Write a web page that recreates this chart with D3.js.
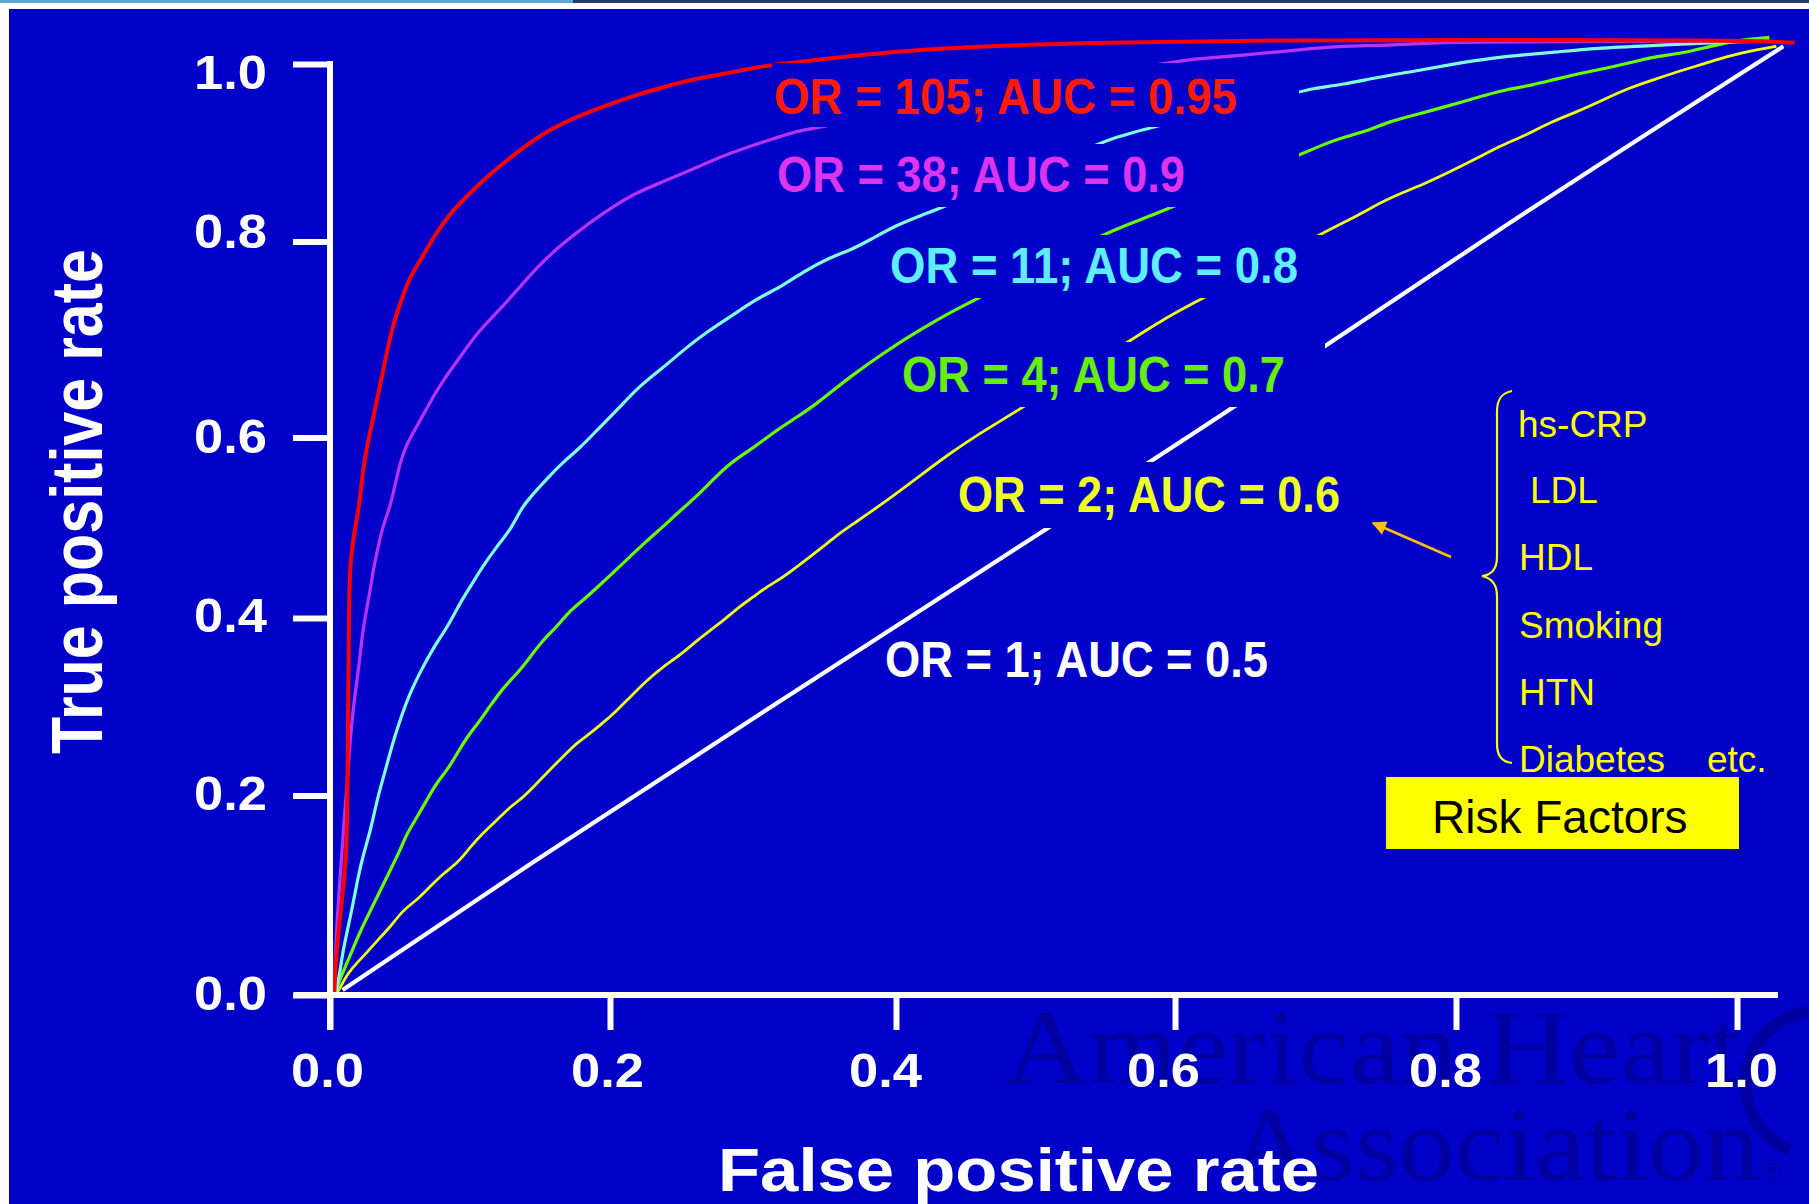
<!DOCTYPE html>
<html>
<head>
<meta charset="utf-8">
<script src="https://cdn.jsdelivr.net/npm/d3@7"></script>
<style>
html,body{margin:0;padding:0;background:#fff;overflow:hidden}
svg{display:block}
</style>
</head>
<body>
<svg id="chart" width="1809" height="1204"></svg>
<script>
// ---------------- DATA ----------------
const fprTicks = [0, 0.2, 0.4, 0.6, 0.8, 1.0];
const tprTicks = [0, 0.2, 0.4, 0.6, 0.8, 1.0];
const oddsRatios = [105, 38, 11, 4, 2, 1];
const aucValues = ["0.95", "0.9", "0.8", "0.7", "0.6", "0.5"];
const xTitle = "False positive rate";
const yTitle = "True positive rate";
const riskFactors = ["hs-CRP", "LDL", "HDL", "Smoking", "HTN", "Diabetes"];
const riskEtc = "etc.";
const riskTitle = "Risk Factors";

// ROC curves: [false positive rate, true positive rate]
const rocOR105 = [[0.003,0],[0.004,0.035],[0.007,0.075],[0.010,0.115],[0.012,0.145],[0.0125,0.217],[0.013,0.308],[0.0135,0.398],[0.014,0.442],[0.015,0.470],[0.018,0.501],[0.021,0.525],[0.024,0.572],[0.029,0.608],[0.034,0.641],[0.039,0.676],[0.044,0.710],[0.050,0.737],[0.057,0.764],[0.066,0.784],[0.074,0.805],[0.084,0.828],[0.095,0.847],[0.112,0.873],[0.129,0.895],[0.152,0.922],[0.171,0.937],[0.195,0.952],[0.214,0.963],[0.237,0.974],[0.261,0.984],[0.284,0.990],[0.307,0.998],[0.331,1.002],[0.361,1.008],[0.389,1.012],[0.417,1.016],[0.462,1.020],[0.544,1.024],[0.668,1.027],[0.831,1.027],[0.996,1.027],[1.041,1.024]];
const rocOR38 = [[0.003,0],[0.004,0.050],[0.007,0.115],[0.010,0.173],[0.013,0.229],[0.015,0.276],[0.018,0.315],[0.021,0.350],[0.023,0.381],[0.026,0.409],[0.029,0.433],[0.031,0.455],[0.034,0.475],[0.036,0.491],[0.039,0.507],[0.043,0.524],[0.046,0.544],[0.050,0.572],[0.055,0.594],[0.062,0.611],[0.071,0.635],[0.081,0.659],[0.093,0.682],[0.105,0.707],[0.121,0.730],[0.134,0.751],[0.148,0.774],[0.166,0.798],[0.186,0.822],[0.202,0.839],[0.217,0.854],[0.235,0.866],[0.256,0.880],[0.279,0.897],[0.307,0.912],[0.331,0.925],[0.345,0.928],[0.595,1.003],[0.619,1.006],[0.641,1.009],[0.662,1.012],[0.688,1.016],[0.715,1.020],[0.752,1.021],[0.783,1.024],[0.814,1.025],[0.996,1.026],[1.021,1.026]];
const rocOR11 = [[0.004,0.002],[0.007,0.022],[0.009,0.042],[0.012,0.062],[0.016,0.088],[0.020,0.118],[0.024,0.142],[0.029,0.165],[0.034,0.198],[0.039,0.225],[0.044,0.255],[0.050,0.285],[0.057,0.315],[0.064,0.338],[0.074,0.367],[0.084,0.390],[0.093,0.417],[0.100,0.434],[0.109,0.457],[0.119,0.479],[0.130,0.500],[0.136,0.520],[0.143,0.534],[0.156,0.556],[0.166,0.572],[0.179,0.589],[0.191,0.608],[0.205,0.628],[0.220,0.652],[0.237,0.671],[0.251,0.689],[0.268,0.708],[0.284,0.723],[0.303,0.742],[0.320,0.754],[0.335,0.769],[0.354,0.784],[0.368,0.791],[0.382,0.802],[0.401,0.819],[0.419,0.830],[0.434,0.839],[0.548,0.912],[0.557,0.917],[0.568,0.922],[0.584,0.929],[0.688,0.968],[0.696,0.972],[0.720,0.977],[0.744,0.985],[0.771,0.992],[0.798,1.000],[0.827,1.007],[0.846,1.010],[0.869,1.013],[0.899,1.018],[0.944,1.021],[0.997,1.025],[1.023,1.026]];
const rocOR4 = [[0.004,0.002],[0.006,0.012],[0.009,0.022],[0.013,0.035],[0.018,0.052],[0.023,0.068],[0.029,0.085],[0.036,0.105],[0.043,0.125],[0.050,0.145],[0.055,0.162],[0.062,0.178],[0.069,0.195],[0.076,0.214],[0.084,0.229],[0.091,0.248],[0.098,0.266],[0.106,0.282],[0.114,0.300],[0.124,0.322],[0.134,0.338],[0.143,0.356],[0.152,0.375],[0.162,0.390],[0.170,0.406],[0.181,0.420],[0.191,0.434],[0.202,0.450],[0.214,0.468],[0.226,0.486],[0.237,0.501],[0.247,0.516],[0.258,0.531],[0.270,0.550],[0.284,0.572],[0.298,0.586],[0.317,0.608],[0.331,0.621],[0.345,0.635],[0.356,0.648],[0.368,0.662],[0.391,0.686],[0.415,0.708],[0.439,0.728],[0.459,0.742],[0.550,0.810],[0.575,0.824],[0.598,0.839],[0.688,0.897],[0.705,0.909],[0.719,0.917],[0.736,0.924],[0.752,0.935],[0.772,0.943],[0.788,0.950],[0.804,0.957],[0.821,0.965],[0.838,0.972],[0.854,0.976],[0.871,0.983],[0.890,0.990],[0.909,0.996],[0.923,1.001],[0.940,1.008],[0.961,1.012],[0.981,1.020],[1.002,1.027],[1.023,1.030]];
const rocOR2 = [[0.005,0.002],[0.009,0.012],[0.013,0.022],[0.019,0.032],[0.026,0.042],[0.034,0.055],[0.043,0.068],[0.052,0.085],[0.062,0.095],[0.071,0.108],[0.081,0.122],[0.091,0.132],[0.100,0.148],[0.109,0.162],[0.119,0.175],[0.129,0.189],[0.138,0.198],[0.148,0.214],[0.157,0.229],[0.166,0.243],[0.176,0.259],[0.186,0.270],[0.195,0.282],[0.205,0.296],[0.214,0.311],[0.226,0.330],[0.237,0.345],[0.249,0.358],[0.261,0.375],[0.270,0.386],[0.280,0.398],[0.290,0.412],[0.300,0.423],[0.309,0.434],[0.321,0.445],[0.331,0.457],[0.340,0.468],[0.349,0.479],[0.359,0.492],[0.368,0.502],[0.391,0.527],[0.415,0.555],[0.439,0.583],[0.462,0.606],[0.491,0.631],[0.566,0.697],[0.593,0.722],[0.620,0.742],[0.705,0.810],[0.729,0.828],[0.745,0.843],[0.762,0.855],[0.779,0.866],[0.795,0.878],[0.814,0.893],[0.833,0.909],[0.850,0.920],[0.868,0.935],[0.886,0.946],[0.904,0.959],[0.923,0.973],[0.942,0.983],[0.961,0.993],[0.978,1.001],[0.994,1.009],[1.014,1.016],[1.028,1.020]];
const rocOR1 = [[0.009,0.005],[0.143,0.132],[0.284,0.270],[0.509,0.500],[0.643,0.631],[0.823,0.807],[1.033,1.020]];

// ---------------- LAYOUT / STYLE ----------------
const W = 1809, H = 1204;
const BG = "#0000C8";
const svg = d3.select("#chart");
const boldFont = "'Liberation Sans', Arial, sans-serif";

const x = d3.scaleLinear().domain(fprTicks).range([330, 610, 896, 1175, 1456, 1737]);
const y = d3.scaleLinear().domain(tprTicks).range([995, 795.5, 618, 437.5, 241.5, 64]);
// small hand-placement offsets of the tick labels seen on the slide
const xLabelNudge = [-3, -3, -11, -12, -11, 4];
const yLabelBaseline = [14, 14, 13, 14.5, 5.5, 24];

// page frame
svg.append("rect").attr("x", 0).attr("y", 0).attr("width", W).attr("height", H).attr("fill", "#fff");
svg.append("rect").attr("x", 0).attr("y", 0).attr("width", 573).attr("height", 3).attr("fill", "#5aa6d6");
svg.append("rect").attr("x", 573).attr("y", 0).attr("width", W - 573).attr("height", 3).attr("fill", "#25386a");
svg.append("rect").attr("x", 9).attr("y", 9).attr("width", W - 9).attr("height", H - 9).attr("fill", BG);

// watermark
const WM = "#0000A0";
const wm = svg.append("g").attr("fill", WM).attr("font-family", "'Liberation Serif', 'Times New Roman', serif");
wm.append("text").attr("x", 1005).attr("y", 1083).attr("font-size", 105)
  .attr("textLength", 736).attr("lengthAdjust", "spacingAndGlyphs").text("American Heart");
wm.append("text").attr("x", 1230).attr("y", 1180).attr("font-size", 105)
  .attr("textLength", 530).attr("lengthAdjust", "spacingAndGlyphs").text("Association");
wm.append("text").attr("x", 1761).attr("y", 1178).attr("font-size", 28).text("®");
svg.append("path").attr("d", "M1809,1012 A72,72 0 0,0 1790,1150").attr("fill", "none")
  .attr("stroke", WM).attr("stroke-width", 12);

// ROC curves
const series = [
  {data: rocOR1,   color: "#ffffff", w: 4.2},
  {data: rocOR2,   color: "#eeff10", w: 2.8},
  {data: rocOR4,   color: "#66ff00", w: 3.2},
  {data: rocOR11,  color: "#7fffdc", w: 3.2},
  {data: rocOR38,  color: "#b533f5", w: 3.3},
  {data: rocOR105, color: "#ff0000", w: 4}
];
const line = d3.line().x(d => x(d[0])).y(d => y(d[1])).curve(d3.curveBasis);
svg.append("g").selectAll("path").data(series).join("path")
  .attr("d", d => line(d.data)).attr("fill", "none")
  .attr("stroke", d => d.color).attr("stroke-width", d => d.w)
  .attr("stroke-linejoin", "round");

// curve labels (opaque text boxes like the original slide)
const labelStyle = [
  {color: "#ff1a0a", x: 774, y: 114, w: 463, box: [772, 63, 1299, 127]},
  {color: "#dd35ee", x: 777, y: 192, w: 408, box: [770, 144, 1299, 207]},
  {color: "#5eeeff", x: 890, y: 283, w: 408, box: [885, 235, 1322, 298]},
  {color: "#66ee10", x: 902, y: 392, w: 383, box: [908, 342, 1325, 407]},
  {color: "#eeff22", x: 958, y: 512, w: 382, box: [950, 462, 1350, 528]},
  {color: "#ffffff", x: 885, y: 677, w: 383, box: [882, 640, 1280, 695]}
];
const labels = oddsRatios.map((or, i) => ({text: `OR = ${or}; AUC = ${aucValues[i]}`, ...labelStyle[i]}));
const lg = svg.append("g");
lg.selectAll("rect").data(labels).join("rect")
  .attr("x", d => d.box[0]).attr("y", d => d.box[1])
  .attr("width", d => d.box[2] - d.box[0]).attr("height", d => d.box[3] - d.box[1])
  .attr("fill", BG);
lg.selectAll("text").data(labels).join("text")
  .attr("x", d => d.x).attr("y", d => d.y)
  .attr("fill", d => d.color).attr("font-family", boldFont).attr("font-weight", "bold")
  .attr("font-size", 50).attr("textLength", d => d.w).attr("lengthAdjust", "spacingAndGlyphs")
  .text(d => d.text);

// axes
const fmt = d3.format(".1f");
const gx = svg.append("g").attr("transform", `translate(0,${y(0)})`)
  .call(d3.axisBottom(x).tickValues(fprTicks).tickFormat(fmt).tickSize(35).tickSizeOuter(0));
const gy = svg.append("g").attr("transform", `translate(${x(0)},0)`)
  .call(d3.axisLeft(y).tickValues(tprTicks).tickFormat(fmt).tickSize(37).tickSizeOuter(0));
[gx, gy].forEach(g => {
  g.select(".domain").remove();
  g.selectAll(".tick line").attr("stroke", "#fff").attr("stroke-width", 6);
  g.selectAll(".tick text").attr("fill", "#fff").attr("font-family", boldFont)
    .attr("font-weight", "bold").attr("font-size", 49)
    .attr("textLength", 73).attr("lengthAdjust", "spacingAndGlyphs");
});
gx.selectAll(".tick text").attr("y", 92).attr("dy", 0).attr("dx", (d, i) => xLabelNudge[i]);
gy.selectAll(".tick text").attr("x", -63).attr("dy", (d, i) => yLabelBaseline[i]);

// axis spines
svg.append("line").attr("x1", x(0)).attr("x2", x(0)).attr("y1", y(1) - 3).attr("y2", y(0) + 35)
  .attr("stroke", "#fff").attr("stroke-width", 6);
svg.append("line").attr("x1", x(0) - 36).attr("x2", x(1) + 41).attr("y1", y(0)).attr("y2", y(0))
  .attr("stroke", "#fff").attr("stroke-width", 6);

// axis titles
svg.append("text").attr("transform", "translate(1018.5,1191) scale(1.12,1)")
  .attr("text-anchor", "middle").attr("fill", "#fff").attr("font-family", boldFont)
  .attr("font-weight", "bold").attr("font-size", 61.5).text(xTitle);
svg.append("text").attr("transform", "translate(102,501.5) scale(1.18,1) rotate(-90)")
  .attr("text-anchor", "middle").attr("fill", "#fff").attr("font-family", boldFont)
  .attr("font-weight", "bold").attr("font-size", 61).text(yTitle);

// risk factor annotation
const ann = svg.append("g");
ann.append("path")
  .attr("d", "M1512,391 C1501,393 1497,400 1497,412 L1497,557 C1497,569 1491,575 1482,576 C1491,578 1497,584 1497,596 L1497,744 C1497,756 1502,762 1512,763")
  .attr("fill", "none").attr("stroke", "#ffff00").attr("stroke-width", 2.2);
const rfY = [437, 503, 570, 638, 705, 772];
const rfX = [1518, 1530, 1519, 1519, 1519, 1519];
ann.selectAll("text.rf").data(riskFactors).join("text").attr("class", "rf")
  .attr("x", (d, i) => rfX[i]).attr("y", (d, i) => rfY[i])
  .attr("fill", "#ffff00").attr("font-family", boldFont).attr("font-size", 37).text(d => d);
ann.append("text").attr("x", 1707).attr("y", 772).attr("fill", "#ffff00")
  .attr("font-family", boldFont).attr("font-size", 37).text(riskEtc);
svg.append("defs").append("marker").attr("id", "ah").attr("viewBox", "0 0 10 10")
  .attr("refX", 9).attr("refY", 5).attr("markerWidth", 6).attr("markerHeight", 5.5)
  .attr("orient", "auto").attr("markerUnits", "strokeWidth")
  .append("path").attr("d", "M0,0 L10,5 L0,10 Z").attr("fill", "#ffc000");
ann.append("line").attr("x1", 1451).attr("y1", 557).attr("x2", 1373).attr("y2", 523)
  .attr("stroke", "#ffc000").attr("stroke-width", 2.6).attr("marker-end", "url(#ah)");
ann.append("rect").attr("x", 1386).attr("y", 777).attr("width", 353).attr("height", 72).attr("fill", "#ffff00");
ann.append("text").attr("x", 1432).attr("y", 833).attr("fill", "#000")
  .attr("font-family", boldFont).attr("font-size", 46).text(riskTitle);
</script>
</body>
</html>
